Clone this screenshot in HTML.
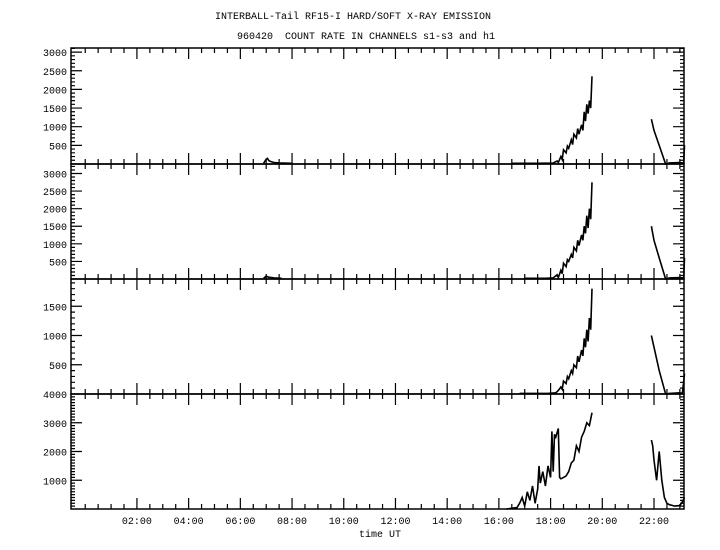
<!DOCTYPE html>
<html><head><meta charset="utf-8">
<style>
html,body{margin:0;padding:0;background:#fff;}
svg{display:block;}
text{font-family:"Liberation Mono",monospace;font-size:10px;fill:#000;white-space:pre;}
</style></head>
<body>
<svg id="chart" width="720" height="550" xmlns="http://www.w3.org/2000/svg">
<text x="353" y="19" text-anchor="middle">INTERBALL-Tail RF15-I HARD/SOFT X-RAY EMISSION</text>
<text x="366" y="39" text-anchor="middle">960420&#160; COUNT RATE IN CHANNELS s1-s3 and h1</text>
<text x="380" y="537" text-anchor="middle">time UT</text>
<g id="plots"></g>
</svg>
<script>
// x axis (hours UT)
const xTickHours = [2,4,6,8,10,12,14,16,18,20,22];
const xTickLabels = ["02:00","04:00","06:00","08:00","10:00","12:00","14:00","16:00","18:00","20:00","22:00"];
// panel y ranges
const panelMax = [3110, 3270, 1966, 4000];
const panelTicks = [[500,1000,1500,2000,2500,3000],[500,1000,1500,2000,2500,3000],[500,1000,1500],[1000,2000,3000,4000]];
// series: each panel has segments of [times],[values]
const p1Times = [[6.9,7.0,7.05,7.1,7.2,7.3,7.5,8.0],[16.5,17.5,18.1,18.25,18.3,18.4,18.45,18.5,18.6,18.65,18.7,18.8,18.85,18.9,19.0,19.05,19.1,19.2,19.25,19.3,19.35,19.4,19.45,19.5,19.55,19.6],[21.9,21.95,22.0,22.2,22.45,22.6,23.0,23.1,23.15,23.18]];
const p1Vals = [[20,130,150,90,60,40,30,20],[20,20,25,80,40,200,120,380,300,480,420,650,520,800,700,950,800,1050,900,1400,1150,1600,1350,1700,1500,2350],[1200,1050,900,500,0,30,40,30,40,500]];
const p2Times = [[6.9,7.0,7.1,7.3,7.6],[17.0,17.8,18.1,18.25,18.3,18.4,18.45,18.5,18.6,18.65,18.7,18.8,18.85,18.9,19.0,19.05,19.1,19.2,19.25,19.3,19.35,19.4,19.45,19.5,19.55,19.6],[21.9,21.95,22.0,22.2,22.45,22.6,23.0,23.1,23.15,23.18]];
const p2Vals = [[20,80,50,30,20],[20,20,30,120,40,250,150,450,350,550,500,700,600,900,800,1100,950,1250,1100,1500,1300,1800,1450,2000,1700,2750],[1500,1300,1100,600,0,30,40,30,40,600]];
const p3Times = [[16.8,17.9,18.2,18.3,18.4,18.45,18.5,18.6,18.65,18.7,18.8,18.85,18.9,19.0,19.05,19.1,19.2,19.25,19.3,19.35,19.4,19.45,19.5,19.55,19.6],[21.9,21.95,22.0,22.2,22.45,22.6,23.0,23.1,23.18]];
const p3Vals = [[10,10,20,60,120,80,220,180,300,260,400,350,500,450,650,550,750,650,950,800,1100,900,1300,1100,1800],[1000,900,800,400,0,10,20,10,350]];
const p4Times = [[16.3,16.7,16.8,16.9,17.0,17.1,17.2,17.3,17.4,17.5,17.55,17.6,17.7,17.8,17.9,18.0,18.05,18.1,18.15,18.2,18.3,18.35,18.4,18.5,18.6,18.7,18.8,18.9,19.0,19.1,19.2,19.3,19.4,19.5,19.6],[21.9,21.95,22.0,22.1,22.15,22.2,22.3,22.4,22.5,22.6,22.8,23.0,23.1,23.18]];
const p4Vals = [[0,50,200,400,100,600,300,800,200,700,1500,900,1300,800,1500,1100,2700,1300,2600,2500,2800,1100,1050,1100,1150,1300,1600,1700,2200,2000,2500,2700,3000,2900,3350],[2400,2200,1700,1000,1500,2000,1000,400,200,150,100,120,250,400]];
const panelTimes = [p1Times,p2Times,p3Times,p4Times];
const panelVals = [p1Vals,p2Vals,p3Vals,p4Vals];

const L=71, R=684;
const panelTop=[48,164,279,394], panelBot=[164,279,394,509];
const tMin=-0.55, tMax=23.16;
function xs(t){return L+(t-tMin)/(tMax-tMin)*(R-L);}
function ys(i,v){return panelBot[i]-v/panelMax[i]*(panelBot[i]-panelTop[i]);}
const NS="http://www.w3.org/2000/svg";
const g=document.getElementById('plots');
function mk(tag,attrs,parent){const e=document.createElementNS(NS,tag);for(const k in attrs)e.setAttribute(k,attrs[k]);(parent||g).appendChild(e);return e;}

for(let i=0;i<4;i++){
  const pg=mk('g',{});
  
  
  const frame=mk('rect',{x:L,y:panelTop[i],width:R-L,height:panelBot[i]-panelTop[i],fill:'none',stroke:'#000','stroke-width':1.5},pg);
  
  
  let d='';
  for(let v=100;v<panelMax[i];v+=100){
    const y=ys(i,v);const major=v%(i==3?1000:500)===0;const len=major?11:4;
    d+=`M${L} ${y}h${len}M${R} ${y}h${-len}`;
  }
  for(let t=0;t<=23;t+=0.5){
    const x=xs(t);const major=t%2===0&&t>0;const len=major?11:5;
    d+=`M${x} ${panelBot[i]}v${-len}M${x} ${panelTop[i]}v${len}`;
  }
  const tk=mk('path',{d:d,stroke:'#000','stroke-width':1.2,fill:'none'},pg);
  
  
  panelTicks[i].forEach(v=>{
    const tx=mk('text',{x:67,y:ys(i,v)+4,'text-anchor':'end'},pg);
    tx.textContent=v;
    
    
  });
  panelTimes[i].forEach((seg,s)=>{
    const pts=seg.map((t,k)=>xs(t).toFixed(1)+','+ys(i,panelVals[i][s][k]).toFixed(1)).join(' ');
    const pl=mk('polyline',{points:pts,fill:'none',stroke:'#000','stroke-width':1.6},pg);
    
    
  });
}
xTickHours.forEach((h,k)=>{
  const tx=mk('text',{x:xs(h),y:524,'text-anchor':'middle'});
  tx.textContent=xTickLabels[k];
  
  
});
</script>
</body></html>
